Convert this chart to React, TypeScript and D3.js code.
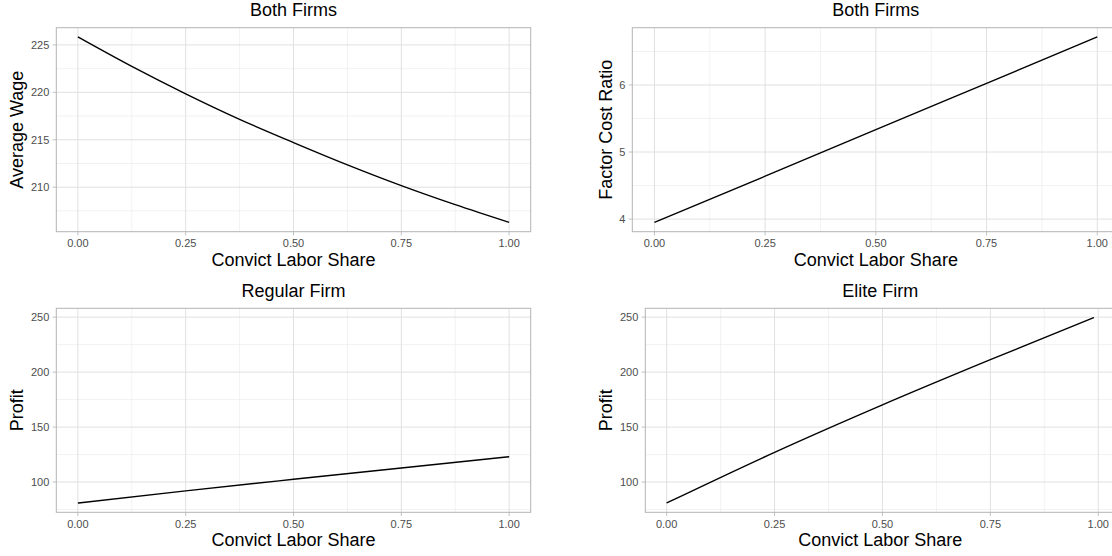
import React from "react";
import * as d3 from "d3";

// ---- data ----
const wageShares = [0, 0.125, 0.25, 0.375, 0.5, 0.625, 0.75, 0.875, 1];
const averageWage = [225.84, 222.73, 219.84, 217.15, 214.7, 212.35, 210.16, 208.15, 206.28];

const ratioShares = [0, 0.25, 0.5, 0.75, 1];
const factorCostRatio = [3.95, 4.64, 5.335, 6.025, 6.716];

const regularShares = [0, 0.25, 0.5, 0.75, 1];
const regularProfit = [80.9, 92.0, 102.5, 112.8, 123.0];

const eliteShares = [0, 0.25, 0.5, 0.75, 0.99];
const eliteProfit = [80.9, 127.0, 170.2, 211.3, 249.6];

const xTicks = [0, 0.25, 0.5, 0.75, 1];
const xMinor = [0.125, 0.375, 0.625, 0.875];
const wageTicks = [210, 215, 220, 225];
const wageMinor = [207.5, 212.5, 217.5, 222.5];
const ratioTicks = [4, 5, 6];
const ratioMinor = [4.5, 5.5, 6.5];
const profitTicks = [100, 150, 200, 250];
const profitMinor = [75, 125, 175, 225];

const FONT = "'Liberation Sans', Arial, Helvetica, sans-serif";

function expand(vals: number[], mult = 0.05): [number, number] {
  const [lo, hi] = d3.extent(vals) as [number, number];
  const r = hi - lo;
  return [lo - r * mult, hi + r * mult];
}

type PanelProps = {
  left: number;
  right: number;
  top: number;
  bottom: number;
  xs: number[];
  ys: number[];
  yDomain: [number, number];
  yTicks: number[];
  yMinor: number[];
  yFmt: (v: number) => string;
  title: string;
  yTitle: string;
  yTitleX: number;
};

function Panel(p: PanelProps) {
  const xDom = expand(p.xs);
  const x = d3.scaleLinear().domain(xDom).range([p.left, p.right]);
  const y = d3.scaleLinear().domain(p.yDomain).range([p.bottom, p.top]);
  const inX = (v: number) => v >= xDom[0] && v <= xDom[1];
  const inY = (v: number) => v >= p.yDomain[0] && v <= p.yDomain[1];
  const pts = p.xs.map((v, i) => [v, p.ys[i]] as [number, number]);
  const line = d3
    .line<[number, number]>()
    .x((d) => x(d[0]))
    .y((d) => y(d[1]))
    .curve(d3.curveMonotoneX);
  const cx = (p.left + p.right) / 2;
  const cy = (p.top + p.bottom) / 2;
  const fmtX = d3.format(".2f");
  return (
    <g>
      {/* minor grid */}
      {xMinor.filter(inX).map((v) => (
        <line key={"xm" + v} x1={x(v)} x2={x(v)} y1={p.top} y2={p.bottom} stroke="#ededed" strokeWidth={0.7} />
      ))}
      {p.yMinor.filter(inY).map((v) => (
        <line key={"ym" + v} x1={p.left} x2={p.right} y1={y(v)} y2={y(v)} stroke="#ededed" strokeWidth={0.7} />
      ))}
      {/* major grid */}
      {xTicks.map((v) => (
        <line key={"xg" + v} x1={x(v)} x2={x(v)} y1={p.top} y2={p.bottom} stroke="#e0e0e0" strokeWidth={1} />
      ))}
      {p.yTicks.map((v) => (
        <line key={"yg" + v} x1={p.left} x2={p.right} y1={y(v)} y2={y(v)} stroke="#e0e0e0" strokeWidth={1} />
      ))}
      <path d={line(pts) || ""} fill="none" stroke="#000" strokeWidth={1.4} />
      <rect x={p.left} y={p.top} width={p.right - p.left} height={p.bottom - p.top} fill="none" stroke="#b3b3b3" strokeWidth={1} />
      {/* ticks & labels */}
      {xTicks.map((v) => (
        <g key={"xt" + v}>
          <line x1={x(v)} x2={x(v)} y1={p.bottom} y2={p.bottom + 3.7} stroke="#b3b3b3" strokeWidth={0.8} />
          <text x={x(v)} y={p.bottom + 15.7} textAnchor="middle" fontSize={11} fill="#4d4d4d" fontFamily={FONT}>
            {fmtX(v)}
          </text>
        </g>
      ))}
      {p.yTicks.map((v) => (
        <g key={"yt" + v}>
          <line x1={p.left - 3.7} x2={p.left} y1={y(v)} y2={y(v)} stroke="#b3b3b3" strokeWidth={0.8} />
          <text x={p.left - 7} y={y(v)} dy="0.35em" textAnchor="end" fontSize={11} fill="#4d4d4d" fontFamily={FONT}>
            {p.yFmt(v)}
          </text>
        </g>
      ))}
      <text x={cx} y={p.top - 11.7} textAnchor="middle" fontSize={18} fill="#000" fontFamily={FONT}>
        {p.title}
      </text>
      <text x={cx} y={p.bottom + 34} textAnchor="middle" fontSize={18} fill="#000" fontFamily={FONT}>
        Convict Labor Share
      </text>
      <text
        transform={`translate(${p.yTitleX},${cy}) rotate(-90)`}
        textAnchor="middle"
        fontSize={18}
        fill="#000"
        fontFamily={FONT}
      >
        {p.yTitle}
      </text>
    </g>
  );
}

export default function App() {
  const profitDomain = expand([...regularProfit, ...eliteProfit]);
  const intFmt = d3.format("d");
  return (
    <svg
      width={1112}
      height={556}
      style={{ position: "absolute", left: 0, top: 0, display: "block", background: "#fff", overflow: "hidden" }}
    >
      <rect x={0} y={0} width={1112} height={556} fill="#fff" />
      <Panel
        left={56.3}
        right={530.7}
        top={27.7}
        bottom={231.7}
        xs={wageShares}
        ys={averageWage}
        yDomain={expand(averageWage)}
        yTicks={wageTicks}
        yMinor={wageMinor}
        yFmt={intFmt}
        title="Both Firms"
        yTitle="Average Wage"
        yTitleX={23}
      />
      <Panel
        left={632.3}
        right={1119.4}
        top={27.7}
        bottom={231.7}
        xs={ratioShares}
        ys={factorCostRatio}
        yDomain={expand(factorCostRatio)}
        yTicks={ratioTicks}
        yMinor={ratioMinor}
        yFmt={intFmt}
        title="Both Firms"
        yTitle="Factor Cost Ratio"
        yTitleX={612.2}
      />
      <Panel
        left={56.3}
        right={530.7}
        top={308.3}
        bottom={512.3}
        xs={regularShares}
        ys={regularProfit}
        yDomain={profitDomain}
        yTicks={profitTicks}
        yMinor={profitMinor}
        yFmt={intFmt}
        title="Regular Firm"
        yTitle="Profit"
        yTitleX={23}
      />
      <Panel
        left={645.3}
        right={1115.3}
        top={308.3}
        bottom={512.3}
        xs={eliteShares}
        ys={eliteProfit}
        yDomain={profitDomain}
        yTicks={profitTicks}
        yMinor={profitMinor}
        yFmt={intFmt}
        title="Elite Firm"
        yTitle="Profit"
        yTitleX={612.2}
      />
    </svg>
  );
}
